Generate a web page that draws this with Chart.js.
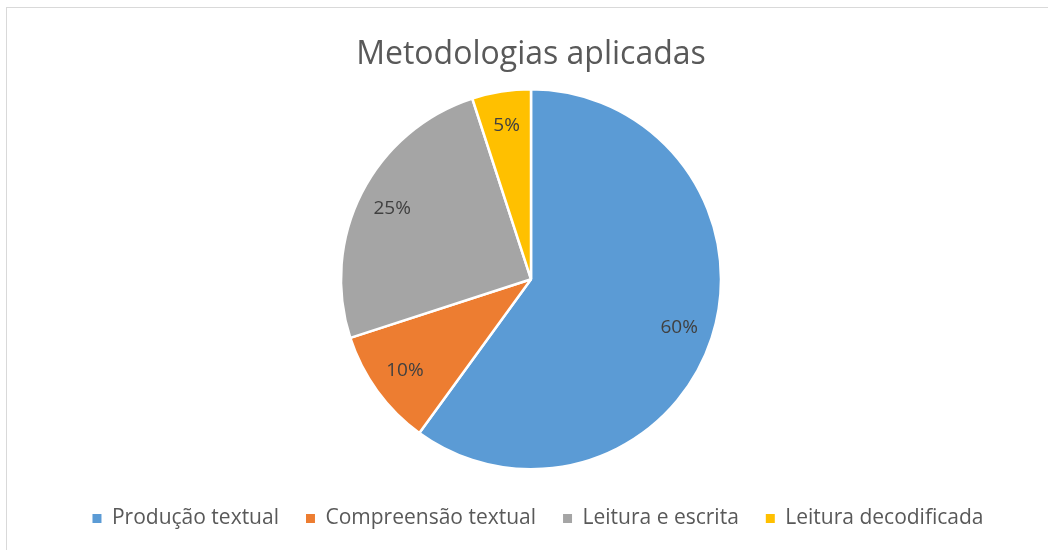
<!DOCTYPE html>
<html lang="pt">
<head>
    <meta charset="UTF-8">
    <title>Metodologias aplicadas</title>
    <script src="https://cdn.jsdelivr.net/npm/chart.js"></script>
    <style>
        html, body { margin: 0; padding: 0; background: #fff; overflow: hidden; }
        .frame {
            position: absolute; left: 6px; top: 7px;
            width: 1048px; height: 543px;
            border-left: 1px solid #d9d9d9; border-top: 1px solid #d9d9d9;
            box-sizing: border-box;
        }
        .chart-box { position: absolute; left: 0; top: 0; width: 1048px; height: 543px; }
    </style>
</head>
<body>

<div class="frame">
    <div class="chart-box">
        <canvas id="pieChart"></canvas>
    </div>
</div>

<script>
    // data
    const categories = ['Produção textual', 'Compreensão textual', 'Leitura e escrita', 'Leitura decodificada'];
    const shares = [60, 10, 25, 5];
    const sliceColors = ['#5B9BD5', '#ED7D31', '#A5A5A5', '#FFC000'];

    // percent labels inside each slice
    const sliceLabels = {
        id: 'sliceLabels',
        afterLayout(chart) {
            // legend sits a little right of centre in the original
            chart.legend.left += 7;
            chart.legend.right += 7;
        },
        afterDatasetsDraw(chart) {
            const ctx = chart.ctx;
            const meta = chart.getDatasetMeta(0);
            ctx.save();
            ctx.font = '19px "Open Sans"';
            ctx.fillStyle = '#404040';
            ctx.textAlign = 'center';
            ctx.textBaseline = 'middle';
            meta.data.forEach((arc, i) => {
                const p = arc.getProps(['x', 'y', 'startAngle', 'endAngle', 'outerRadius'], true);
                const mid = (p.startAngle + p.endAngle) / 2;
                const r = p.outerRadius * 0.82;
                ctx.fillText(shares[i] + '%', p.x + Math.cos(mid) * r, p.y + Math.sin(mid) * r);
            });
            ctx.restore();
        }
    };

    const defaultLabels = Chart.overrides.pie.plugins.legend.labels.generateLabels;

    const ctx = document.getElementById('pieChart').getContext('2d');
    new Chart(ctx, {
        type: 'pie',
        data: {
            labels: categories,
            datasets: [{
                data: shares,
                backgroundColor: sliceColors,
                borderColor: '#ffffff',
                borderWidth: 2.5,
                radius: 190
            }]
        },
        options: {
            responsive: true,
            maintainAspectRatio: false,
            animation: false,
            layout: { padding: { top: 0, bottom: 12 } },
            plugins: {
                tooltip: { enabled: false },
                title: {
                    display: true,
                    text: 'Metodologias aplicadas',
                    color: '#595959',
                    font: { family: 'Open Sans', size: 32, weight: 'normal' },
                    padding: { top: 28, bottom: 3 }
                },
                legend: {
                    position: 'bottom',
                    labels: {
                        color: '#595959',
                        font: { family: 'Open Sans', size: 21 },
                        boxWidth: 9,
                        boxHeight: 9,
                        padding: 27,
                        generateLabels(chart) {
                            return defaultLabels(chart).map(item => ({ ...item, lineWidth: 0, strokeStyle: item.fillStyle }));
                        }
                    }
                }
            }
        },
        plugins: [sliceLabels]
    });
</script>

</body>
</html>
